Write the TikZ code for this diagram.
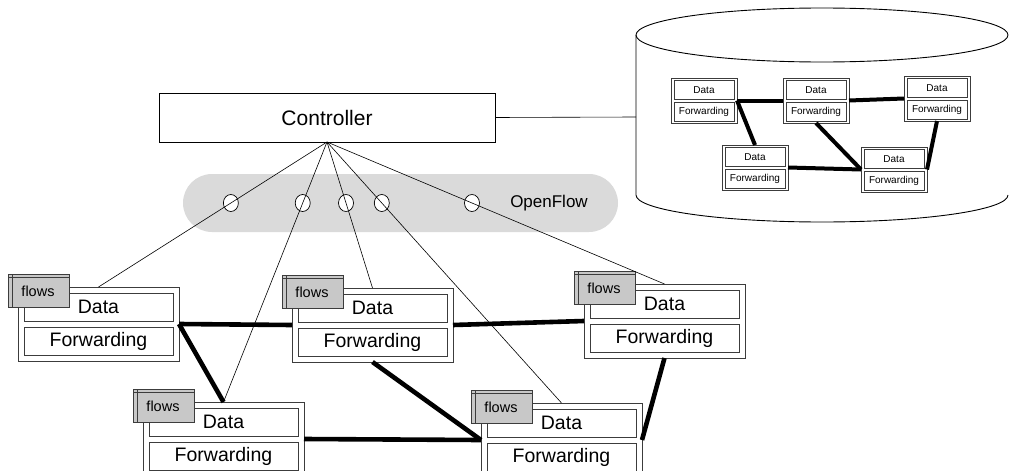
\documentclass[tikz,border=0pt]{standalone}
\usepackage{fontspec}
\setmainfont{Liberation Sans}
\usetikzlibrary{calc,shapes.geometric}

\definecolor{tabgray}{RGB}{200,200,200}
\definecolor{bandgray}{RGB}{218,218,218}
\definecolor{boxline}{RGB}{60,60,60}

\tikzset{
  ctrlbox/.style={draw=black, line width=0.9pt, fill=white, minimum width=336pt,
    minimum height=49pt, inner sep=0pt, outer sep=0pt, font=\fontsize{21}{21}\selectfont},
  swbox/.style={draw=boxline, line width=0.9pt, fill=white, minimum width=161pt,
    minimum height=74pt, inner sep=0pt, outer sep=0pt, anchor=north west},
  layerbox/.style={draw=boxline, line width=0.9pt, fill=white, minimum width=149pt,
    minimum height=28pt, inner sep=0pt, outer sep=0pt, anchor=north west,
    font=\fontsize{19.5}{19.5}\selectfont},
  flowtab/.style={draw=boxline, line width=0.8pt, fill=tabgray, minimum width=61pt,
    minimum height=33pt, inner sep=0pt, outer sep=0pt, anchor=north west},
  tablabel/.style={inner sep=0pt, font=\fontsize{14.5}{14.5}\selectfont},
  minibox/.style={draw=boxline, line width=0.8pt, fill=white, minimum width=66pt,
    minimum height=45pt, inner sep=0pt, outer sep=0pt, anchor=north west},
  minilayer/.style={draw=boxline, line width=0.8pt, fill=white, minimum width=60pt,
    minimum height=19pt, inner sep=0pt, outer sep=0pt, anchor=north west,
    font=\fontsize{10}{10}\selectfont},
  band/.style={fill=bandgray, rounded corners=29pt, minimum width=435pt,
    minimum height=58pt, inner sep=0pt},
  port/.style={ellipse, draw=black, line width=0.7pt, fill=white, minimum width=15pt,
    minimum height=17pt, inner sep=0pt},
  ctrlline/.style={draw=black, line width=0.6pt},
  link/.style={draw=black, line width=4.6pt},
  minilink/.style={draw=black, line width=4pt},
  cyl/.style={draw=black, line width=0.9pt},
}

% switch with a flow-table tab: name, x, y of the north-west corner
\newcommand\bigswitch[3]{%
  \node[swbox] (#1) at (#2,#3) {};
  \node[layerbox] (#1d) at ($(#1.north west)+(6,6)$) {Data};
  \node[layerbox] (#1f) at ($(#1.north west)+(6,40)$) {Forwarding};
  \node[flowtab] (#1t) at ($(#1.north west)+(-10,-13)$) {};
  \draw[boxline, line width=0.8pt]
    ($(#1t.north west)+(0,3.5)$) -- ($(#1t.north east)+(0,3.5)$)
    ($(#1t.north west)+(4,0)$) -- ($(#1t.south west)+(4,0)$);
  \node[tablabel] (#1l) at ($(#1.north west)+(20,4)$) {flows};
}

% small switch inside the network view
\newcommand\miniswitch[3]{%
  \node[minibox] (#1) at (#2,#3) {};
  \node[minilayer] (#1d) at ($(#1.north west)+(3,2.5)$) {Data};
  \node[minilayer] (#1f) at ($(#1.north west)+(3,24)$) {Forwarding};
}

\begin{document}
\begin{tikzpicture}[x=1pt,y=-1pt]
\useasboundingbox (0,0) rectangle (1009,471);
\clip (0,0) rectangle (1009,471);

% network view (cylinder)
\draw[cyl] (636,35) -- (636,195) arc[start angle=180, end angle=0, x radius=186, y radius=27];
\draw[cyl] (822,35) ellipse[x radius=186, y radius=27];
\coordinate (dbin) at (636,117);

% controller
\node[ctrlbox] (ctrl) at (327,117.5) {Controller};
\draw[ctrlline] (ctrl.east) -- (dbin);

% OpenFlow channel
\node[band] (of) at (400.5,203) {};
\node[inner sep=0pt, font=\fontsize{17}{17}\selectfont] (oflabel) at (549,203) {OpenFlow};

% top-centre points of the switches, for placing the ports
\coordinate (An) at (98.5,287);
\coordinate (Bn) at (372.5,288);
\coordinate (Cn) at (664.5,284);
\coordinate (Dn) at (223.5,402);
\coordinate (En) at (561.5,403);

% ports on the OpenFlow channel
\node[port] (pA) at ($(ctrl.south)!0.4207!(An)$) {};
\node[port] (pD) at ($(ctrl.south)!0.2346!(Dn)$) {};
\node[port] (pB) at ($(ctrl.south)!0.4178!(Bn)$) {};
\node[port] (pE) at ($(ctrl.south)!0.2337!(En)$) {};
\node[port] (pC) at ($(ctrl.south)!0.4296!(Cn)$) {};

% switches
\bigswitch{A}{18}{287}
\bigswitch{B}{292}{288}
\bigswitch{C}{584}{284}
\bigswitch{D}{143}{402}
\bigswitch{E}{481}{403}

% control connections
\draw[ctrlline] (ctrl.south) -- (A.north);
\draw[ctrlline] (ctrl.south) -- (D.north);
\draw[ctrlline] (ctrl.south) -- (B.north);
\draw[ctrlline] (ctrl.south) -- (E.north);
\draw[ctrlline] (ctrl.south) -- (C.north);

% data links
\draw[link] (A.east) -- (B.west);
\draw[link] (B.east) -- (C.west);
\draw[link] (A.east) -- (D.north);
\draw[link] (B.south) -- (E.west);
\draw[link] (D.east) -- (E.west);
\draw[link] (C.south) -- (E.east);

% network view switches
\miniswitch{S1}{671}{78}
\miniswitch{S2}{783}{78}
\miniswitch{S3}{904}{76}
\miniswitch{S4}{722}{145}
\miniswitch{S5}{861}{147}

\draw[minilink] (S1.east) -- (S2.west);
\draw[minilink] (S2.east) -- (S3.west);
\draw[minilink] (S1.east) -- (S4.north);
\draw[minilink] (S2.south) -- (S5.west);
\draw[minilink] (S4.east) -- (S5.west);
\draw[minilink] (S3.south) -- (S5.east);
\end{tikzpicture}
\end{document}
